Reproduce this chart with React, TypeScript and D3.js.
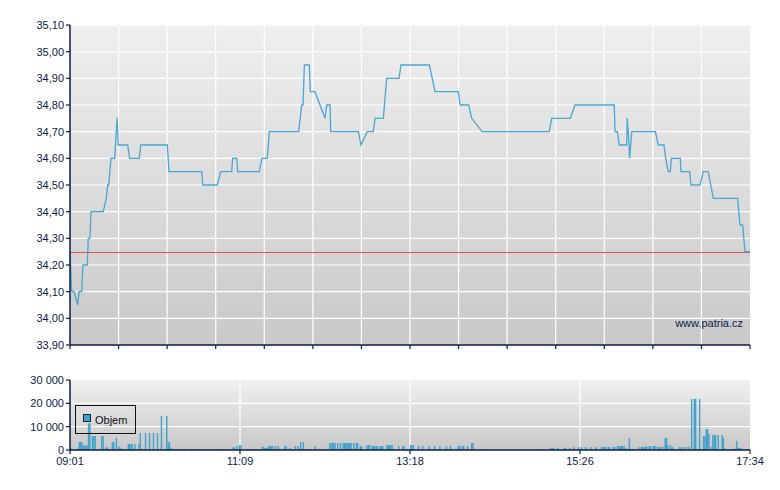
import React from "react";
import * as d3 from "d3";

// ---- data ----
const timeLabels = ["09:01", "11:09", "13:18", "15:26", "17:34"];
const sessionMinutes = 513; // 09:01 -> 17:34
const priceTicks = [33.9, 34.0, 34.1, 34.2, 34.3, 34.4, 34.5, 34.6, 34.7, 34.8, 34.9, 35.0, 35.1];
const volumeTicks = [0, 10000, 20000, 30000];
const referencePrice = 34.25;
const legendLabel = "Objem";
const watermark = "www.patria.cz";

// minutes after 09:01
const priceMinutes = [
  0, 1.3, 3, 5.8, 6.8, 8.8, 9.8, 13, 13.8, 15.1, 15.8, 25.1, 27.4, 28.4, 29.2, 30.9, 33.7, 35.5, 36.4, 43.5,
  45, 52.3, 53.3, 73.4, 74.7, 99.4, 100.1, 111.1, 113.7, 122, 122.7, 125.8, 126.5, 142.8, 144.8, 148.8, 150.4,
  172.5, 174.8, 175.8, 176.8, 180.5, 181.3, 184.8, 192.4, 193.7, 196.2, 196.7, 217.5, 219.5, 224.3, 228.8,
  230.1, 236.4, 238.9, 248.2, 249.7, 271.1, 275.4, 292.9, 294.4, 300.8, 303, 311, 361.6, 363.4, 377.4, 381,
  410.6, 411.2, 412.9, 414.4, 420, 420.4, 421.2, 422.2, 423.8, 441.6, 443.8, 448.1, 449.4, 451.4, 452.9,
  453.6, 460.4, 461, 467.5, 468.5, 475.3, 477.8, 481.5, 483.4, 485.3, 503.7, 504.5, 505.5, 507.5, 509.2, 513,
];
const priceValues = [
  34.25, 34.1, 34.1, 34.05, 34.1, 34.1, 34.2, 34.2, 34.3, 34.3, 34.4, 34.4, 34.45, 34.5, 34.5, 34.6, 34.6, 34.75, 34.65, 34.65,
  34.6, 34.6, 34.65, 34.65, 34.55, 34.55, 34.5, 34.5, 34.55, 34.55, 34.6, 34.6, 34.55, 34.55, 34.6, 34.6, 34.7,
  34.7, 34.8, 34.8, 34.95, 34.95, 34.85, 34.85, 34.75, 34.8, 34.8, 34.7, 34.7, 34.65, 34.7, 34.7,
  34.75, 34.75, 34.9, 34.9, 34.95, 34.95, 34.85, 34.85, 34.8, 34.8, 34.75, 34.7, 34.7, 34.75, 34.75, 34.8,
  34.8, 34.7, 34.7, 34.65, 34.65, 34.75, 34.7, 34.6, 34.7, 34.7, 34.65, 34.65, 34.6, 34.55, 34.55,
  34.6, 34.6, 34.55, 34.55, 34.5, 34.5, 34.55, 34.55, 34.5, 34.45, 34.45, 34.4, 34.35, 34.35, 34.25, 34.25,
];

const volumeMinutes = [
  1, 5, 7, 8, 9, 10, 11, 12, 13, 14, 15, 17, 18, 19, 24, 25, 27, 28, 29, 32, 33, 35, 37, 38, 40, 41, 42, 44, 45, 46, 47,
  49, 52, 53, 57, 60, 63, 66, 69, 73, 74, 75, 76, 78, 80, 83, 91, 92, 96, 99, 108, 111, 113, 123, 124, 126, 128, 129,
  134, 137, 140, 143, 145, 146, 147, 148, 149, 150, 151, 152, 153, 155, 157, 158, 162, 163, 166, 170, 172, 174, 176,
  177, 179, 180, 181, 185, 192, 196, 197, 198, 199, 200, 202, 204, 206, 207, 208, 209, 210, 211, 212, 214, 216, 217,
  219, 220, 224, 225, 226, 228, 229, 230, 231, 232, 234, 235, 236, 239, 240, 241, 242, 243, 248, 251, 252, 254, 255,
  257, 258, 259, 263, 266, 271, 275, 279, 284, 287, 293, 294, 296, 297, 300, 303, 304,
  363, 364, 365, 368, 373, 374, 377, 380, 384, 386, 389, 393, 397, 401, 402, 403, 404, 406, 407, 410, 411, 413,
  414, 415, 416, 417, 418, 419, 420, 422, 423, 424, 425, 427, 429, 431, 432, 433, 434, 435, 437, 438, 440, 441, 442,
  444, 445, 446, 448, 449, 450, 451, 453, 454, 455, 460, 461, 463, 465, 467, 469, 471, 472, 475, 478, 479, 480, 481,
  482, 484, 485, 486, 487, 489, 492, 493, 494, 499, 500, 502, 503, 504, 505, 506, 507,
];
const volumeValues = [
  700, 400, 3400, 3400, 3400, 1900, 1900, 1900, 1900, 11400, 11400, 6000, 6000, 6000, 6000, 6000, 1150, 1150, 300, 3400, 3400, 5200, 1500, 1000, 400, 400, 400, 2600, 2600, 2600, 2600,
  2600, 2600, 7300, 7300, 7300, 7300, 7300, 14600, 14600, 3400, 3400, 1000, 500, 500, 400, 400, 400, 400, 400, 400, 400, 400, 1100, 1100, 1700, 2100, 2100,
  400, 400, 400, 400, 1300, 1300, 850, 850, 850, 1700, 1700, 1700, 1700, 1700, 1700, 400, 1700, 1700, 850, 1700, 1700, 3400, 3400,
  400, 400, 400, 400, 1700, 300, 3000, 3000, 3000, 3000, 3000, 3000, 3000, 3000, 3000, 3000, 3000, 3000, 3000, 3000, 3000, 3000, 3000,
  1700, 1700, 2100, 2100, 2100, 1700, 1700, 1700, 1700, 1700, 1700, 1700, 1700, 2100, 2100, 2100, 2100, 2100, 1700, 1700, 1700, 400, 400,
  2100, 2100, 2100, 1700, 1700, 1700, 1700, 1700, 1700, 1700, 1700, 1700, 1700, 1700, 1700, 3000, 3000,
  850, 850, 850, 850, 850, 850, 850, 1300, 1300, 1300, 1300, 1300, 1300, 1300, 1300, 1300, 1300, 1300, 1300, 1300, 1300, 1700,
  1700, 1700, 1700, 1700, 1700, 700, 700, 5100, 430, 430, 430, 300, 1300, 1300, 1300, 1300, 1300, 1700, 1700, 1700, 1700, 1700, 1700,
  1300, 1300, 1300, 1300, 5100, 5100, 2100, 2100, 700, 1300, 1300, 1300, 1300, 1300, 1300, 21900, 21900, 21900, 21900, 6000, 6000, 9000, 9000,
  6900, 1300, 6400, 6400, 6400, 6400, 6400, 5100, 700, 400, 400, 700, 3900, 900, 900, 900, 500,
];

// ---- styles ----
const NAVY = "#0a1d4c";
const LINE = "#4aa6d2";
const BAR = "#40a2cd";
const FONT = "'Liberation Sans', Arial, sans-serif";

export default function App() {
  const left = 70, right = 750;
  const pTop = 25, pBottom = 345;
  const vTop = 380, vBottom = 450;

  const x = d3.scaleLinear().domain([0, sessionMinutes]).range([left, right]);
  const yP = d3.scaleLinear().domain([33.9, 35.1]).range([pBottom, pTop]);
  const yV = d3.scaleLinear().domain([0, 30000]).range([vBottom, vTop]);

  const gridMinutes = d3.range(15).map((i) => (i * sessionMinutes) / 14);
  const labelMinutes = timeLabels.map((_, i) => (i * sessionMinutes) / (timeLabels.length - 1));

  const line = d3
    .line<number>()
    .x((_, i) => x(priceMinutes[i]))
    .y((d) => yP(d))
    .curve(d3.curveLinear);

  const fmtP = (v: number) => v.toFixed(2).replace(".", ",");
  const fmtV = (v: number) => d3.format(",")(v).replace(/,/g, " ");
  const refY = Math.round(yP(referencePrice)) + 0.5;

  return (
    <svg width={780} height={490} style={{ position: "absolute", left: 0, top: 0, background: "#fff" }} fontFamily={FONT}>
      <defs>
        <linearGradient id="gP" x1="0" y1="0" x2="0" y2="1">
          <stop offset="0" stopColor="#efefef" />
          <stop offset="1" stopColor="#c9c9c9" />
        </linearGradient>
        <linearGradient id="gV" x1="0" y1="0" x2="0" y2="1">
          <stop offset="0" stopColor="#f0f0f0" />
          <stop offset="1" stopColor="#c8c8c8" />
        </linearGradient>
      </defs>

      {/* price panel */}
      <rect x={left} y={pTop} width={right - left} height={pBottom - pTop} fill="url(#gP)" />
      {priceTicks.slice(1).map((t) => (
        <line key={"hp" + t} x1={left} x2={right} y1={yP(t)} y2={yP(t)} stroke="#fff" strokeWidth={1.2} />
      ))}
      {gridMinutes.slice(1, -1).map((m, i) => (
        <line key={"vp" + i} x1={x(m)} x2={x(m)} y1={pTop} y2={pBottom} stroke="#fff" strokeWidth={1.2} />
      ))}
      <line x1={left} x2={right} y1={refY} y2={refY} stroke="#e84c4c" strokeWidth={1.2} />
      <path d={line(priceValues) || ""} fill="none" stroke={LINE} strokeWidth={1.3} />
      <text x={743} y={327} textAnchor="end" fontSize={11} fill={NAVY}>
        {watermark}
      </text>

      {/* price axes */}
      <line x1={left} x2={left} y1={pTop} y2={pBottom} stroke={NAVY} strokeWidth={1.5} />
      <line x1={left} x2={right} y1={pBottom} y2={pBottom} stroke={NAVY} strokeWidth={1.5} />
      {priceTicks.map((t) => (
        <g key={"tp" + t}>
          <line x1={left - 4} x2={left} y1={yP(t)} y2={yP(t)} stroke={NAVY} strokeWidth={1.2} />
          <text x={64} y={yP(t) + 4} textAnchor="end" fontSize={11} fill={NAVY}>
            {fmtP(t)}
          </text>
        </g>
      ))}
      {gridMinutes.map((m, i) => (
        <line key={"bp" + i} x1={x(m)} x2={x(m)} y1={pBottom} y2={pBottom + 4} stroke={NAVY} strokeWidth={1.2} />
      ))}

      {/* volume panel */}
      <rect x={left} y={vTop} width={right - left} height={vBottom - vTop} fill="url(#gV)" />
      {volumeTicks.slice(1, -1).map((t) => (
        <line key={"hv" + t} x1={left} x2={right} y1={yV(t)} y2={yV(t)} stroke="#fff" strokeWidth={1.2} />
      ))}
      {labelMinutes.slice(1, -1).map((m, i) => (
        <line key={"vv" + i} x1={x(m)} x2={x(m)} y1={vTop} y2={vBottom} stroke="#fff" strokeWidth={1.2} />
      ))}
      {volumeValues.map((v, i) => (
        <rect
          key={"b" + i}
          x={x(volumeMinutes[i]) - 0.7}
          y={yV(v)}
          width={1.4}
          height={vBottom - yV(v)}
          fill={BAR}
        />
      ))}

      {/* legend */}
      <rect x={75.5} y={405.5} width={60} height={28} fill="none" stroke="#111" strokeWidth={1} />
      <rect x={83.5} y={414.5} width={7} height={7} fill={BAR} stroke="#123" strokeWidth={1} />
      <text x={95} y={424} fontSize={11} fill="#111">
        {legendLabel}
      </text>

      {/* volume axes */}
      <line x1={left} x2={left} y1={vTop} y2={vBottom} stroke={NAVY} strokeWidth={1.5} />
      <line x1={left} x2={right} y1={vBottom} y2={vBottom} stroke={NAVY} strokeWidth={1.5} />
      {volumeTicks.map((t) => (
        <g key={"tv" + t}>
          <line x1={left - 4} x2={left} y1={yV(t)} y2={yV(t)} stroke={NAVY} strokeWidth={1.2} />
          <text x={64} y={yV(t) + 4} textAnchor="end" fontSize={11} fill={NAVY}>
            {fmtV(t)}
          </text>
        </g>
      ))}
      {labelMinutes.map((m, i) => (
        <g key={"tl" + i}>
          <line x1={x(m)} x2={x(m)} y1={vBottom} y2={vBottom + 4} stroke={NAVY} strokeWidth={1.2} />
          <text x={x(m)} y={465} textAnchor="middle" fontSize={11} fill={NAVY}>
            {timeLabels[i]}
          </text>
        </g>
      ))}
    </svg>
  );
}
